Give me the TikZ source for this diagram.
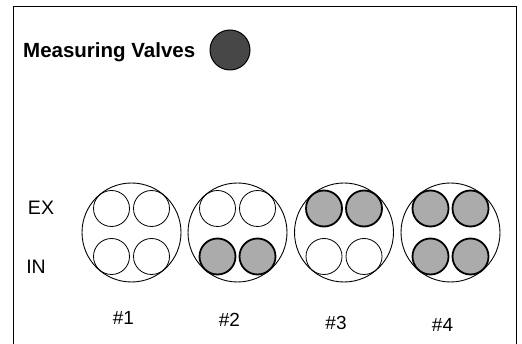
\documentclass[tikz,border=0pt]{standalone}
\usepackage{fontspec}
\setmainfont{Liberation Sans}
\begin{document}
\begin{tikzpicture}[x=1pt,y=-1pt,
  bigvalve/.style={circle,draw=black,line width=0.9pt,minimum size=99pt,inner sep=0pt},
  openvalve/.style={circle,draw=black,line width=0.8pt,minimum size=36pt,inner sep=0pt},
  measvalve/.style={circle,draw=black,line width=1.8pt,fill=black!33,minimum size=36pt,inner sep=0pt},
  rowlabel/.style={font=\fontsize{19.5}{20}\selectfont,inner sep=0pt},
  numlabel/.style={font=\fontsize{19}{19}\selectfont,inner sep=0pt}]
\useasboundingbox (0,0) rectangle (522,344);
\draw[line width=1pt] (13,344) -- (13,7) -- (516,7) -- (516,344);
\node[font=\bfseries\fontsize{20.5}{21}\selectfont,anchor=west,inner sep=0pt] (title) at (23,52) {Measuring Valves};
\node[circle,draw=black,line width=1pt,fill=black!72,minimum size=40pt,inner sep=0pt] (legend) at (230,50) {};
\node[rowlabel] (ex) at (41,208) {EX};
\node[rowlabel] (in) at (36,267) {IN};
% valve sets
\foreach \i/\cx/\tl/\tr/\bl/\br/\ny in {1/131.5/openvalve/openvalve/openvalve/openvalve/318,
                                    2/237.5/openvalve/openvalve/measvalve/measvalve/320,
                                    3/344/measvalve/measvalve/openvalve/openvalve/323,
                                    4/450.5/measvalve/measvalve/measvalve/measvalve/325}{
  \node[bigvalve] (b\i) at (\cx,232.5) {};
  \node[\tl] (tl\i) at ([shift={(-20,-24)}]b\i.center) {};
  \node[\tr] (tr\i) at ([shift={(20,-24)}]b\i.center) {};
  \node[\bl] (bl\i) at ([shift={(-20,24)}]b\i.center) {};
  \node[\br] (br\i) at ([shift={(20,24)}]b\i.center) {};
  \node[numlabel] (n\i) at (\cx-8,\ny) {\#\i};
}
\end{tikzpicture}
\end{document}
